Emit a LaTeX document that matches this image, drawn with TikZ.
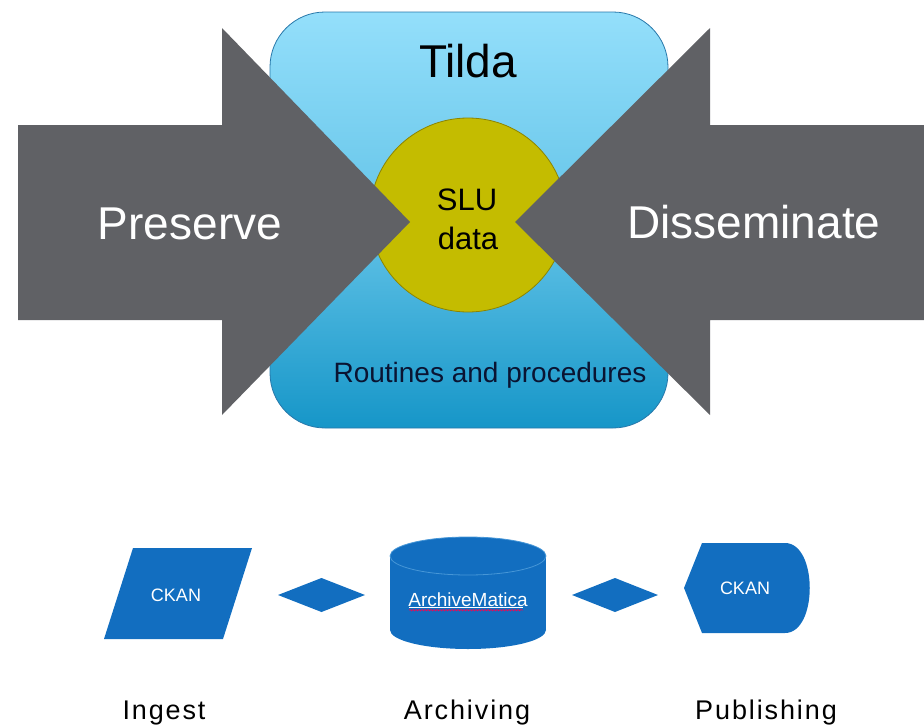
\documentclass[tikz,border=0pt]{standalone}
\usepackage{fontspec}
\setmainfont{Liberation Sans}
\newfontfamily\labfont[LetterSpace=7]{Liberation Sans}
\usetikzlibrary{shapes.geometric,decorations.pathmorphing}
\definecolor{arrowgray}{RGB}{96,97,101}
\definecolor{topblue}{RGB}{148,223,251}
\definecolor{midblue}{RGB}{100,196,232}
\definecolor{botblue}{RGB}{22,150,200}
\definecolor{rectedge}{RGB}{40,120,170}
\definecolor{sluyellow}{RGB}{196,188,0}
\definecolor{sluedge}{RGB}{140,132,0}
\definecolor{shapeblue}{RGB}{18,110,192}
\definecolor{shapeedge}{RGB}{70,150,215}
\tikzset{
  bigtxt/.style={font=\fontsize{46}{46}\selectfont, anchor=base},
  midtxt/.style={font=\fontsize{31}{31}\selectfont, anchor=base},
  smalltxt/.style={font=\fontsize{28}{28}\selectfont, anchor=base},
  shapetxt/.style={font=\fontsize{18}{18}\selectfont, text=white},
  labtxt/.style={font=\labfont\fontsize{27}{27}\selectfont, anchor=base},
  bluefill/.style={fill=shapeblue, draw=none}
}
\begin{document}
\begin{tikzpicture}[x=1pt,y=-1pt]
\useasboundingbox (0,0) rectangle (924,728);
% central rounded rectangle
\draw[rounded corners=55pt, top color=topblue, bottom color=botblue, middle color=midblue, draw=rectedge, line width=0.8pt]
  (270,12) rectangle (668,428);
% SLU ellipse
\draw[fill=sluyellow, draw=sluedge, line width=0.8pt] (468,215) ellipse [x radius=98, y radius=97];
% arrows
\fill[arrowgray] (18,125) -- (222,125) -- (222,28) -- (410,222) -- (222,415) -- (222,320) -- (18,320) -- cycle;
\fill[arrowgray] (924,125) -- (710,125) -- (710,28) -- (515,222) -- (710,415) -- (710,320) -- (924,320) -- cycle;
% texts
\node[bigtxt] (tilda) at (468,77) {Tilda};
\node[bigtxt, text=white] (preserve) at (190,239) {Preserve};
\node[bigtxt, text=white] (dissem) at (754,238) {Disseminate};
\node[midtxt] (slu) at (467,210) {SLU};
\node[midtxt] (data) at (468,249) {data};
\node[smalltxt, text={rgb,255:red,10;green,20;blue,50}] (routines) at (490,382) {Routines and procedures};
% bottom shapes
\fill[bluefill] (133,548) -- (252,548) -- (223,639) -- (104,639) -- cycle;
\node[shapetxt] (ckanin) at (176,595) {CKAN};
\fill[bluefill] (278,595) -- (321.5,578) -- (365,595) -- (321.5,612) -- cycle;
\fill[bluefill] (468,630) ellipse [x radius=78, y radius=19];
\fill[bluefill] (390,556) rectangle (546,630);
\draw[fill=shapeblue, draw=shapeedge, line width=0.8pt] (468,556) ellipse [x radius=78, y radius=19];
\node[shapetxt, inner sep=1pt] (archm) at (468,600) {\fontsize{19}{19}\selectfont ArchiveMatica};
\draw[white, line width=0.8pt] (archm.south west) ++(2,-1) -- ++(114,0);
\draw[red!70!magenta, line width=0.6pt, decorate, decoration={snake, amplitude=0.8pt, segment length=3pt}]
  (archm.south west) ++(2,2) -- ++(114,0);
\fill[bluefill] (572,595) -- (615,578) -- (658,595) -- (615,612) -- cycle;
\fill[bluefill] (684,588) -- (702,543) -- (785,543) .. controls (818,543) and (818,633) .. (785,633) -- (702,633) -- cycle;
\node[shapetxt] (ckanpub) at (745,588) {CKAN};
% labels
\node[labtxt] (ingest) at (164,719) {Ingest};
\node[labtxt] (archiving) at (467,719) {Archiving};
\node[labtxt] (publishing) at (766,719) {Publishing};
\end{tikzpicture}
\end{document}
